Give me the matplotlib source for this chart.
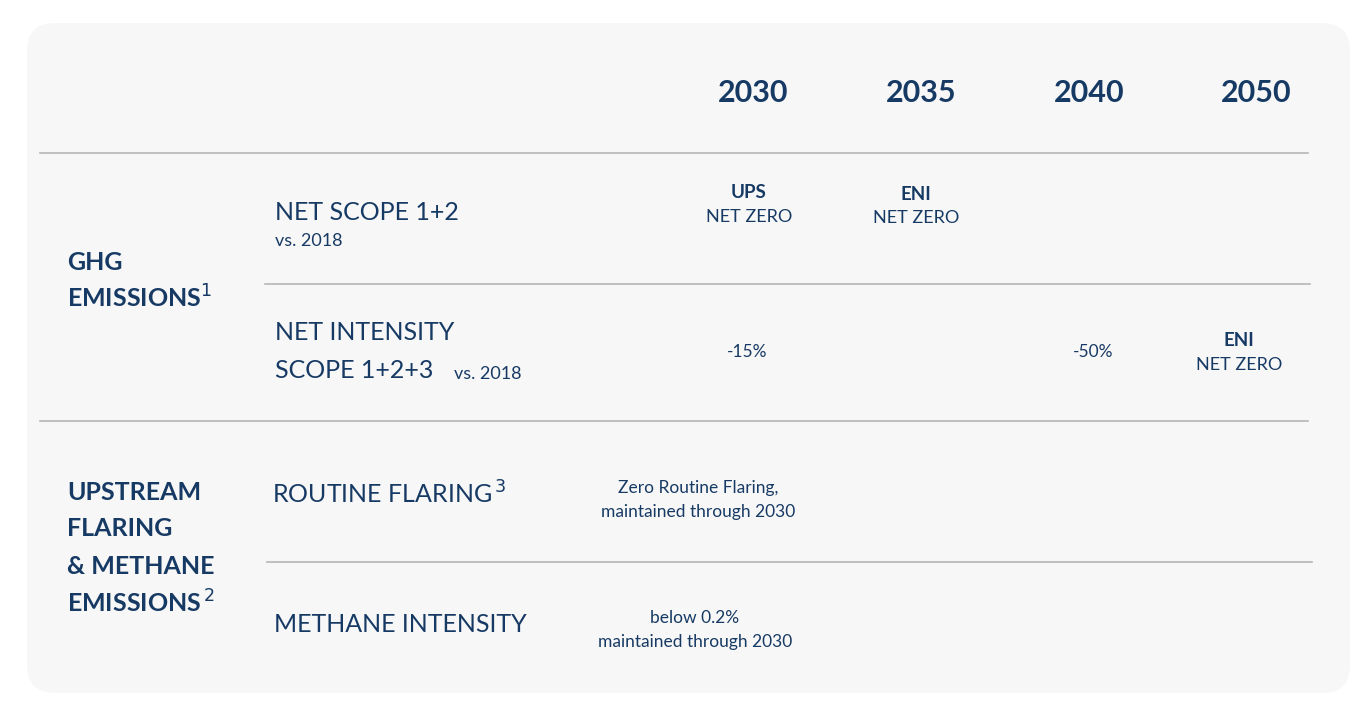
import matplotlib.pyplot as plt
from matplotlib.patches import FancyBboxPatch

plt.rcParams['font.family'] = ['Lato', 'DejaVu Sans']

W, H = 1372, 722
navy = '#173a64'
grid = '#b5b5b5'

years = ['2030', '2035', '2040', '2050']
year_x = [753, 921, 1089, 1256]

groups = [['GHG', 'EMISSIONS$^{1}$'],
          ['UPSTREAM', 'FLARING', '& METHANE', 'EMISSIONS$^{\\,2}$']]
group_y = [[262, 298], [493, 529, 566, 603]]

row_labels = ['NET SCOPE 1+2', 'NET INTENSITY', 'ROUTINE FLARING$^{\\,3}$', 'METHANE INTENSITY']
row_label_pos = [(275, 212), (275, 333), (272, 494), (274, 625)]

# cells: (x, y, bold header, text)
cells = [
    (749, 193, 'UPS', 'NET ZERO'),
    (916, 194, 'ENI', 'NET ZERO'),
    (747, 352, None, '-15%'),
    (1093, 352, None, '-50%'),
    (1239, 341, 'ENI', 'NET ZERO'),
    (698, 488, None, 'Zero Routine Flaring,\nmaintained through 2030'),
    (695, 618, None, 'below 0.2%\nmaintained through 2030'),
]

lines = [(153, 40, 1308), (284, 265, 1310), (421, 40, 1308), (562, 267, 1312)]

fig = plt.figure(figsize=(W / 100, H / 100), dpi=100)
ax = fig.add_axes([0, 0, 1, 1])
ax.set_xlim(0, W)
ax.set_ylim(H, 0)
ax.axis('off')

ax.add_patch(FancyBboxPatch((27, 23), 1323, 670, boxstyle='round,pad=0,rounding_size=28',
                            facecolor='#f7f7f7', edgecolor='none'))

for x, yr in zip(year_x, years):
    ax.text(x, 93, yr, ha='center', va='center', fontsize=22, fontweight='bold', color=navy)

for y, x0, x1 in lines:
    ax.plot([x0, x1], [y, y], color=grid, lw=1.2)

for labels, ys in zip(groups, group_y):
    for lab, y in zip(labels, ys):
        ax.text(67, y, lab, ha='left', va='center', fontsize=18, fontweight='bold', color=navy)

for lab, (x, y) in zip(row_labels, row_label_pos):
    ax.text(x, y, lab, ha='left', va='center', fontsize=18, color=navy)
ax.text(275, 241, 'vs. 2018', ha='left', va='center', fontsize=13, color=navy)
ax.text(275, 371, 'SCOPE 1+2+3', ha='left', va='center', fontsize=18, color=navy)
ax.text(454, 374, 'vs. 2018', ha='left', va='center', fontsize=13, color=navy)

for x, y, head, txt in cells:
    if head:
        ax.text(x, y, head, ha='center', va='center', fontsize=13.5, fontweight='bold', color=navy)
        ax.text(x, y + 24, txt, ha='center', va='center', fontsize=13, color=navy)
    else:
        ax.text(x, y + (12 if '\n' in txt else 0), txt, ha='center', va='center',
                fontsize=12.5, color=navy, linespacing=1.55)

fig.savefig('out.png', dpi=100, facecolor='white')
